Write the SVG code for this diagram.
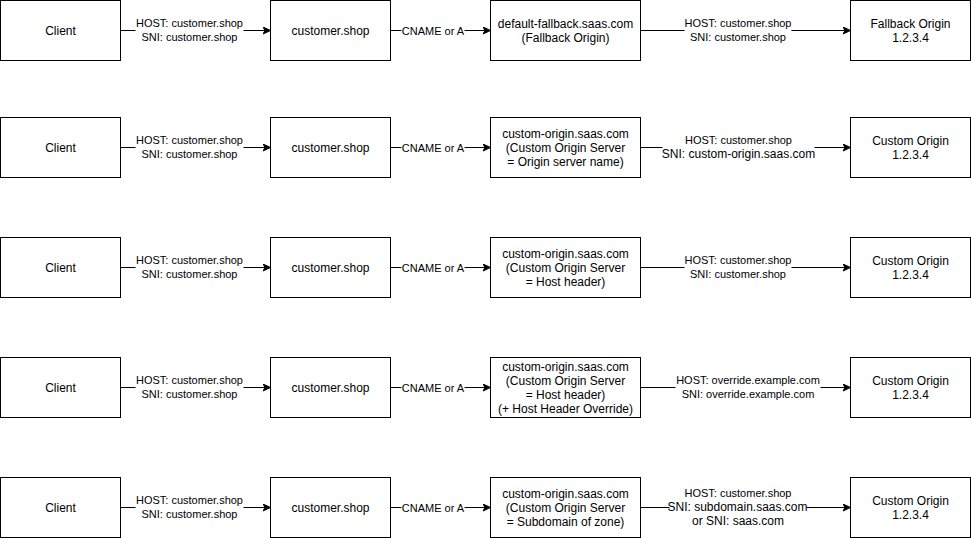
<svg xmlns="http://www.w3.org/2000/svg" width="971" height="538" viewBox="0 0 971 538">
<defs>
<style>
.box{fill:#fff;stroke:#000;stroke-width:1}
.edge{fill:none;stroke:#000;stroke-width:1}
.t{font-family:"Liberation Sans",Arial,Helvetica,sans-serif;font-size:12px;fill:#000;text-anchor:middle}
.s{font-size:11px}
.bg{fill:#fff}
</style>
<marker id="arr" markerUnits="userSpaceOnUse" markerWidth="9" markerHeight="8" refX="8" refY="4" orient="auto" viewBox="0 0 9 8">
<path d="M0.5,0.5 L8,4 L0.5,7.5 L2.5,4 Z" fill="#000" stroke="#000" stroke-width="1"/>
</marker>
</defs>
<rect width="971" height="538" fill="#fff"/>
<g transform="translate(0.5,0.5)">
<g id="connectors">
<!-- row 1 -->
<path class="edge" d="M120,30 L270,30" marker-end="url(#arr)"/>
<path class="edge" d="M390,30 L490,30" marker-end="url(#arr)"/>
<path class="edge" d="M640,30 L850,30" marker-end="url(#arr)"/>
<!-- row 2 -->
<path class="edge" d="M120,147 L270,147" marker-end="url(#arr)"/>
<path class="edge" d="M390,147 L490,147" marker-end="url(#arr)"/>
<path class="edge" d="M640,147 L850,147" marker-end="url(#arr)"/>
<!-- row 3 -->
<path class="edge" d="M120,267 L270,267" marker-end="url(#arr)"/>
<path class="edge" d="M390,267 L490,267" marker-end="url(#arr)"/>
<path class="edge" d="M640,267 L850,267" marker-end="url(#arr)"/>
<!-- row 4 -->
<path class="edge" d="M120,387 L270,387" marker-end="url(#arr)"/>
<path class="edge" d="M390,387 L490,387" marker-end="url(#arr)"/>
<path class="edge" d="M640,387 L850,387" marker-end="url(#arr)"/>
<!-- row 5 -->
<path class="edge" d="M120,507 L270,507" marker-end="url(#arr)"/>
<path class="edge" d="M390,507 L490,507" marker-end="url(#arr)"/>
<path class="edge" d="M640,507 L850,507" marker-end="url(#arr)"/>

<!-- labels row 1 -->
<rect class="bg" x="135" y="22" width="108" height="16"/>
<text class="t s" x="189" y="26">HOST: customer.shop</text>
<text class="t s" x="189" y="40">SNI: customer.shop</text>
<rect class="bg" x="401" y="24" width="63" height="12"/>
<text class="t s" x="432.5" y="34">CNAME or A</text>
<rect class="bg" x="684" y="22" width="107" height="16"/>
<text class="t s" x="737.5" y="26">HOST: customer.shop</text>
<text class="t s" x="737.5" y="40">SNI: customer.shop</text>
<!-- labels row 2 -->
<rect class="bg" x="135" y="139" width="108" height="16"/>
<text class="t s" x="189" y="143">HOST: customer.shop</text>
<text class="t s" x="189" y="157">SNI: customer.shop</text>
<rect class="bg" x="401" y="141" width="63" height="12"/>
<text class="t s" x="432.5" y="151">CNAME or A</text>
<rect class="bg" x="662" y="139" width="152" height="16"/>
<text class="t s" x="738" y="143">HOST: customer.shop</text>
<text class="t" x="738" y="157">SNI: custom-origin.saas.com</text>
<!-- labels row 3 -->
<rect class="bg" x="135" y="259" width="108" height="16"/>
<text class="t s" x="189" y="263">HOST: customer.shop</text>
<text class="t s" x="189" y="277">SNI: customer.shop</text>
<rect class="bg" x="401" y="261" width="63" height="12"/>
<text class="t s" x="432.5" y="271">CNAME or A</text>
<rect class="bg" x="684" y="259" width="107" height="16"/>
<text class="t s" x="737.5" y="263">HOST: customer.shop</text>
<text class="t s" x="737.5" y="277">SNI: customer.shop</text>
<!-- labels row 4 -->
<rect class="bg" x="135" y="379" width="108" height="16"/>
<text class="t s" x="189" y="383">HOST: customer.shop</text>
<text class="t s" x="189" y="397">SNI: customer.shop</text>
<rect class="bg" x="401" y="381" width="63" height="12"/>
<text class="t s" x="432.5" y="391">CNAME or A</text>
<rect class="bg" x="675" y="379" width="145" height="16"/>
<text class="t s" x="747.5" y="383">HOST: override.example.com</text>
<text class="t s" x="747.5" y="397">SNI: override.example.com</text>
<!-- labels row 5 -->
<rect class="bg" x="135" y="499" width="108" height="16"/>
<text class="t s" x="189" y="503">HOST: customer.shop</text>
<text class="t s" x="189" y="517">SNI: customer.shop</text>
<rect class="bg" x="401" y="501" width="63" height="12"/>
<text class="t s" x="432.5" y="511">CNAME or A</text>
<rect class="bg" x="669" y="485" width="137" height="42"/>
<text class="t s" x="737.5" y="496">HOST: customer.shop</text>
<text class="t" x="737" y="510.5">SNI: subdomain.saas.com</text>
<text class="t" x="737.5" y="524.5">or SNI: saas.com</text>
</g>

<!-- Row 1 -->
<g id="client1"><rect class="box" x="0" y="0" width="120" height="60"/><text class="t" x="60" y="34.3">Client</text></g>
<g id="shop1"><rect class="box" x="270" y="0" width="120" height="60"/><text class="t" x="330" y="34.3">customer.shop</text></g>
<g id="mid1"><rect class="box" x="490" y="0" width="150" height="60"/><text class="t" x="565" y="27.3">default-fallback.saas.com</text><text class="t" x="565" y="41.3">(Fallback Origin)</text></g>
<g id="origin1"><rect class="box" x="850" y="0" width="120" height="60"/><text class="t" x="910" y="27.3">Fallback Origin</text><text class="t" x="910" y="41.3">1.2.3.4</text></g>

<!-- Row 2 -->
<g id="client2"><rect class="box" x="0" y="117" width="120" height="60"/><text class="t" x="60" y="151.3">Client</text></g>
<g id="shop2"><rect class="box" x="270" y="117" width="120" height="60"/><text class="t" x="330" y="151.3">customer.shop</text></g>
<g id="mid2"><rect class="box" x="490" y="117" width="150" height="60"/><text class="t" x="565" y="137.3">custom-origin.saas.com</text><text class="t" x="565" y="151.3">(Custom Origin Server</text><text class="t" x="565" y="165.3">= Origin server name)</text></g>
<g id="origin2"><rect class="box" x="850" y="117" width="120" height="60"/><text class="t" x="910" y="144.3">Custom Origin</text><text class="t" x="910" y="158.3">1.2.3.4</text></g>

<!-- Row 3 -->
<g id="client3"><rect class="box" x="0" y="237" width="120" height="60"/><text class="t" x="60" y="271.3">Client</text></g>
<g id="shop3"><rect class="box" x="270" y="237" width="120" height="60"/><text class="t" x="330" y="271.3">customer.shop</text></g>
<g id="mid3"><rect class="box" x="490" y="237" width="150" height="60"/><text class="t" x="565" y="257.3">custom-origin.saas.com</text><text class="t" x="565" y="271.3">(Custom Origin Server</text><text class="t" x="565" y="285.3">= Host header)</text></g>
<g id="origin3"><rect class="box" x="850" y="237" width="120" height="60"/><text class="t" x="910" y="264.3">Custom Origin</text><text class="t" x="910" y="278.3">1.2.3.4</text></g>

<!-- Row 4 -->
<g id="client4"><rect class="box" x="0" y="357" width="120" height="60"/><text class="t" x="60" y="391.3">Client</text></g>
<g id="shop4"><rect class="box" x="270" y="357" width="120" height="60"/><text class="t" x="330" y="391.3">customer.shop</text></g>
<g id="mid4"><rect class="box" x="490" y="357" width="150" height="60"/><text class="t" x="565" y="370.3">custom-origin.saas.com</text><text class="t" x="565" y="384.3">(Custom Origin Server</text><text class="t" x="565" y="398.3">= Host header)</text><text class="t" x="565" y="412.3">(+ Host Header Override)</text></g>
<g id="origin4"><rect class="box" x="850" y="357" width="120" height="60"/><text class="t" x="910" y="384.3">Custom Origin</text><text class="t" x="910" y="398.3">1.2.3.4</text></g>

<!-- Row 5 -->
<g id="client5"><rect class="box" x="0" y="477" width="120" height="60"/><text class="t" x="60" y="511.3">Client</text></g>
<g id="shop5"><rect class="box" x="270" y="477" width="120" height="60"/><text class="t" x="330" y="511.3">customer.shop</text></g>
<g id="mid5"><rect class="box" x="490" y="477" width="150" height="60"/><text class="t" x="565" y="497.3">custom-origin.saas.com</text><text class="t" x="565" y="511.3">(Custom Origin Server</text><text class="t" x="565" y="525.3">= Subdomain of zone)</text></g>
<g id="origin5"><rect class="box" x="850" y="477" width="120" height="60"/><text class="t" x="910" y="504.3">Custom Origin</text><text class="t" x="910" y="518.3">1.2.3.4</text></g>
</g>
</svg>
